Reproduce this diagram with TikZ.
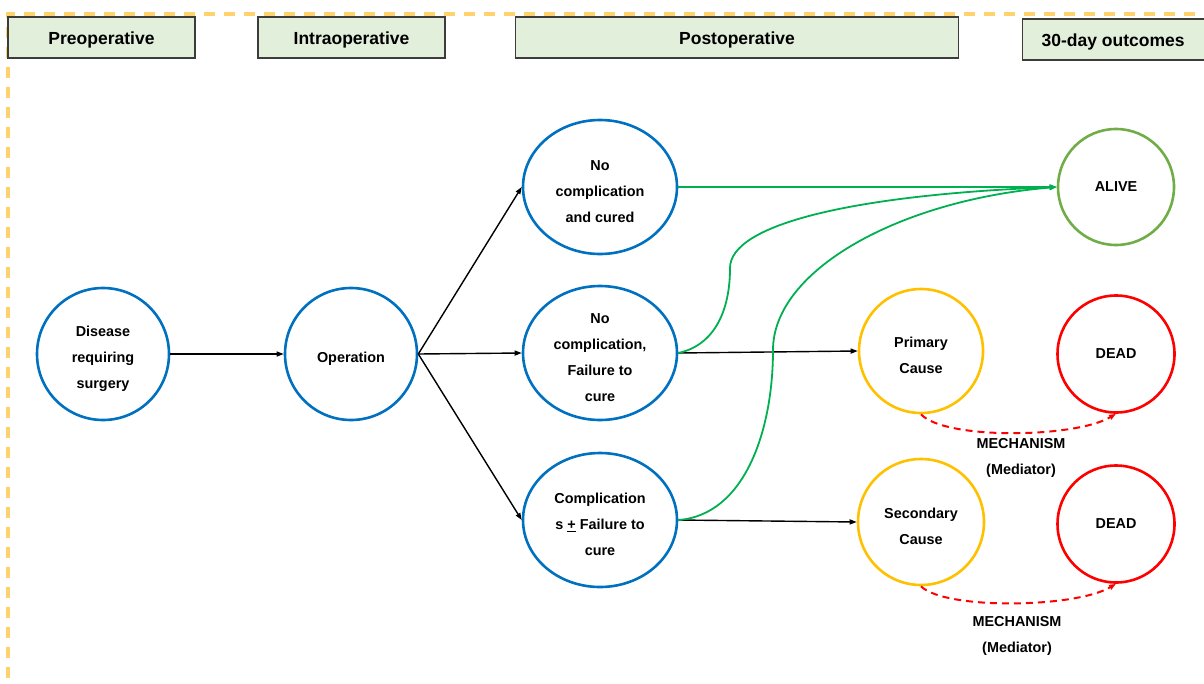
\documentclass[tikz,border=0pt]{standalone}
\usepackage{fontspec}
\setmainfont{Liberation Sans}
\usetikzlibrary{shapes.geometric,arrows.meta}
\definecolor{bordc}{RGB}{255,210,110}
\definecolor{hdrfill}{RGB}{226,239,218}
\definecolor{hdrline}{RGB}{60,60,60}
\definecolor{blu}{RGB}{0,112,192}
\definecolor{grn}{RGB}{0,176,80}
\definecolor{alivec}{RGB}{112,173,71}
\definecolor{orng}{RGB}{255,192,0}
\definecolor{redc}{RGB}{255,0,0}
\tikzset{
  hdr/.style={draw=hdrline, line width=1.3pt, fill=hdrfill, inner sep=0pt,
    font=\fontsize{17.5}{20}\selectfont\bfseries},
  txt/.style={align=center, font=\fontsize{14.4}{26}\selectfont\bfseries, inner sep=0pt},
  lbl/.style={txt, yshift=-4.5pt},
  bluec/.style={draw=blu, line width=2.6pt, circle, minimum size=132pt},
  blue/.style={draw=blu, line width=2.6pt, ellipse, minimum width=154pt, minimum height=134pt},
  outc/.style={circle, line width=2.6pt},
  blk/.style={line width=1.4pt, -{Triangle[length=7pt,width=5pt]}},
  grnar/.style={grn, line width=1.8pt, -{Triangle[length=7pt,width=5pt]}},
  mech/.style={redc, line width=2pt, dash pattern=on 7pt off 5pt, -{Triangle[length=7pt,width=5pt]}},
}
\begin{document}
\begin{tikzpicture}[x=1pt,y=-1pt]
\useasboundingbox (0,0) rectangle (1204,683);
% dashed frame
\draw[bordc, line width=3.5pt, dash pattern=on 11pt off 9pt] (1215,14) -- (8,14) -- (8,695);
% headers
\node[hdr, minimum width=187pt, minimum height=41pt, label={[hdr, draw=none, fill=none, yshift=-2pt]center:Preoperative}] (h1) at (101.5,37.5) {};
\node[hdr, minimum width=187pt, minimum height=41pt, label={[hdr, draw=none, fill=none, yshift=-2pt]center:Intraoperative}] (h2) at (351.5,37.5) {};
\node[hdr, minimum width=443pt, minimum height=41pt, label={[hdr, draw=none, fill=none, yshift=-2pt]center:Postoperative}] (h3) at (737,37.5) {};
\node[hdr, minimum width=200pt, minimum height=41pt, anchor=west, label={[hdr, draw=none, fill=none, yshift=-2pt, anchor=west]west:\hspace{19pt}30-day outcomes}] (h4) at (1022,39.5) {};
% nodes
\node[bluec, label={[lbl]center:Disease\\requiring\\surgery}] (dis) at (103,354) {};
\node[bluec, label={[lbl]center:Operation}] (op) at (351,354) {};
\node[blue, label={[lbl]center:No\\complication\\and cured}] (cured) at (600,187) {};
\node[blue, label={[lbl]center:No\\complication,\\Failure to\\cure}] (fail) at (600,353) {};
\node[blue, label={[lbl]center:Complication\\s \underline{+} Failure to\\cure}] (comp) at (600,520) {};
\node[outc, draw=alivec, minimum size=116pt, label={[txt]center:ALIVE}] (alive) at (1116,187) {};
\node[outc, draw=orng, minimum size=124pt, label={[lbl]center:Primary\\Cause}] (prim) at (921,351) {};
\node[outc, draw=redc, minimum size=117pt, label={[txt]center:DEAD}] (dead1) at (1116,354) {};
\node[outc, draw=orng, minimum size=126pt, label={[lbl]center:Secondary\\Cause}] (sec) at (921,522) {};
\node[outc, draw=redc, minimum size=117pt, label={[txt]center:DEAD}] (dead2) at (1116,524) {};
\node[txt] (m1) at (1021,457.5) {MECHANISM\\(Mediator)};
\node[txt] (m2) at (1017,635.5) {MECHANISM\\(Mediator)};
% connectors
\draw[blk] (dis.east) -- (op.west);
\draw[blk] (op.east) -- (cured.west);
\draw[blk] (op.east) -- (fail.west);
\draw[blk] (op.east) -- (comp.west);
\draw[blk] (fail.east) -- (prim.west);
\draw[blk] (comp.east) -- (sec.west);
\coordinate (g1) at (730,268);
\coordinate (g2) at (773,350);
\draw[grnar] (cured.east) -- (alive.west);
\draw[grnar] (fail.east) .. controls (715,345) and (730,310) .. (g1) .. controls (730,225) and (850,195) .. (alive.west);
\draw[grnar] (comp.east) .. controls (745,515) and (773,430) .. (g2) .. controls (773,270) and (900,200) .. (alive.west);
\draw[mech] (prim.south) .. controls (945,440) and (1075,438) .. (dead1.south);
\draw[mech] (sec.south) .. controls (945,610) and (1075,608) .. (dead2.south);
\end{tikzpicture}
\end{document}
